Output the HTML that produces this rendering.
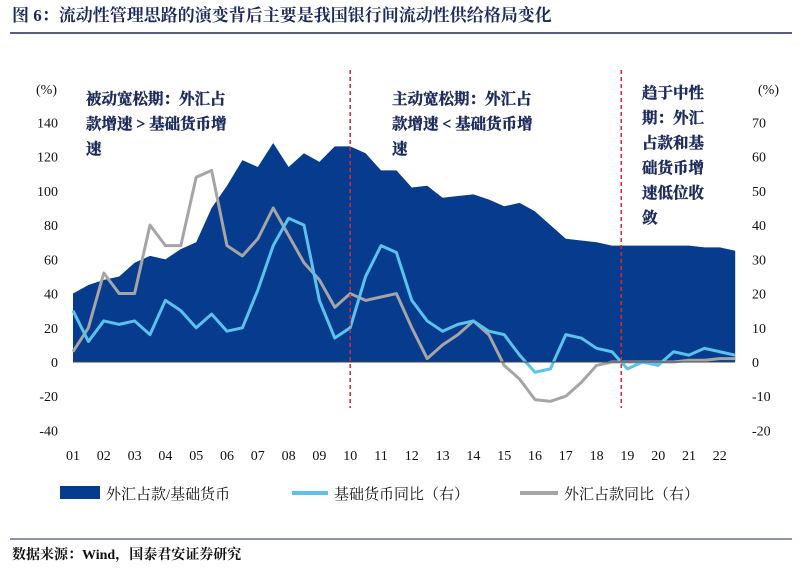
<!DOCTYPE html>
<html><head><meta charset="utf-8">
<style>
body{margin:0;width:803px;height:569px;background:#fff;overflow:hidden;font-family:"Liberation Serif","Noto Serif CJK SC",serif;}
svg text{font-family:"Liberation Serif","Noto Serif CJK SC",serif;}
</style></head>
<body>
<svg id="chart" width="803" height="569" xmlns="http://www.w3.org/2000/svg">
<text x="12" y="21" font-size="17" font-weight="bold" fill="#1c2a5c">图 6：流动性管理思路的演变背后主要是我国银行间流动性供给格局变化</text>
<line x1="10" y1="33" x2="792" y2="33" stroke="#1c2a5c" stroke-width="1.5"/>
<g id="plot"></g>
<line x1="10" y1="539" x2="792" y2="539" stroke="#1c2a5c" stroke-width="1"/>
<text x="12" y="559" font-size="14" font-weight="bold" fill="#111">数据来源：Wind，国泰君安证券研究</text>
</svg>
<script>
const years=[2001,2001.5,2002,2002.5,2003,2003.5,2004,2004.5,2005,2005.5,2006,2006.5,2007,2007.5,2008,2008.5,2009,2009.5,2010,2010.5,2011,2011.5,2012,2012.5,2013,2013.5,2014,2014.5,2015,2015.5,2016,2016.5,2017,2017.5,2018,2018.5,2019,2019.5,2020,2020.5,2021,2021.5,2022,2022.5];
const fxRatio=[40,45,48,50,58,62,60,66,70,90,103,118,114,128,114,122,117,126,126,122,112,112,102,103,96,97,98,95,91,93,88,80,72,71,70,68,68,68,68,68,68,67,67,65];
const baseYoy=[15,6,12,11,12,8,18,15,10,14,9,10,21,34,42,40,18,7,10,25,34,32,18,12,9,11,12,9,8,2,-3,-2,8,7,4,3,-2,0,-1,3,2,4,3,2];
const fxYoy=[3,10,26,20,20,40,34,34,54,56,34,31,36,45,37,29,24,16,20,18,19,20,10,1,5,8,12,8,-1,-5,-11,-11.5,-10,-6,-1,0,0,0,0,0,0.5,0.5,1,1];
const leftTicks=[140,120,100,80,60,40,20,0,-20,-40];
const rightTicks=[70,60,50,40,30,20,10,0,-10,-20];
const xLabels=["01","02","03","04","05","06","07","08","09","10","11","12","13","14","15","16","17","18","19","20","21","22"];
const NS="http://www.w3.org/2000/svg";
const g=document.getElementById('plot');
const x0=73,xpy=30.8,yZero=362,ppu=1.711;
const X=t=>x0+(t-2001)*xpy;
const YL=v=>yZero-v*ppu;
const YR=v=>yZero-v*2*ppu;
function mk(tag,attrs){const e=document.createElementNS(NS,tag);for(const k in attrs)e.setAttribute(k,attrs[k]);g.appendChild(e);return e;}
let d=`M${X(years[0])},${YL(0)}`;
years.forEach((t,i)=>d+=` L${X(t)},${YL(fxRatio[i])}`);
d+=` L${X(years[years.length-1])},${YL(0)} Z`;
let a=mk('path',{d:d,fill:'#073b8e'});


function line(vals,color,name){let p='';years.forEach((t,i)=>p+=(i?' L':'M')+X(t)+','+YR(vals[i]));const e=mk('path',{d:p,fill:'none',stroke:color,'stroke-width':3,'stroke-linejoin':'round'});

}
line(fxYoy,'#a5a5a5','fx-yoy-line');
line(baseYoy,'#5bc2ec','base-money-yoy-line');
let z=mk('line',{x1:x0,x2:735,y1:yZero,y2:yZero,stroke:'#444','stroke-width':1});


leftTicks.forEach(v=>{const t=mk('text',{x:58,y:YL(v)+5,'font-size':14,'text-anchor':'end',fill:'#111'});t.textContent=v;

});
rightTicks.forEach(v=>{const t=mk('text',{x:752,y:YR(v)+5,'font-size':14,'text-anchor':'start',fill:'#111'});t.textContent=v;

});
xLabels.forEach((s,i)=>{const t=mk('text',{x:X(2001+i),y:460,'font-size':14,'text-anchor':'middle',fill:'#111'});t.textContent=s;

});
[[36,'(%)','left-unit'],[758,'(%)','right-unit']].forEach(([x,s,n])=>{const t=mk('text',{x:x,y:94,'font-size':14,fill:'#111'});t.textContent=s;

});
[2010,2018.8].forEach(t=>{const e=mk('line',{x1:X(t),x2:X(t),y1:70,y2:408,stroke:'#d9282f','stroke-width':1.5,'stroke-dasharray':'4,3'});

});
function ann(x,y,lines,n){lines.forEach((s,i)=>{const t=mk('text',{x:x,y:y+i*25,'font-size':15.5,'font-weight':'bold',fill:'#1c2a5c',stroke:'#1c2a5c','stroke-width':0.4});t.textContent=s;

});}
ann(86,104,['被动宽松期：外汇占','款增速 > 基础货币增','速'],'annotation-passive');
ann(392,104,['主动宽松期：外汇占','款增速 < 基础货币增','速'],'annotation-active');
ann(642,98,['趋于中性','期：外汇','占款和基','础货币增','速低位收','敛'],'annotation-neutral');
let r=mk('rect',{x:60,y:486,width:40,height:13,fill:'#073b8e'});


let l1=mk('line',{x1:292,x2:328,y1:493,y2:493,stroke:'#5bc2ec','stroke-width':4});


let l2=mk('line',{x1:520,x2:558,y1:493,y2:493,stroke:'#a5a5a5','stroke-width':4});


[[106,'外汇占款/基础货币'],[334,'基础货币同比（右）'],[564,'外汇占款同比（右）']].forEach(([x,s])=>{const t=mk('text',{x:x,y:499,'font-size':15,fill:'#111'});t.textContent=s;

});
</script>
</body></html>
